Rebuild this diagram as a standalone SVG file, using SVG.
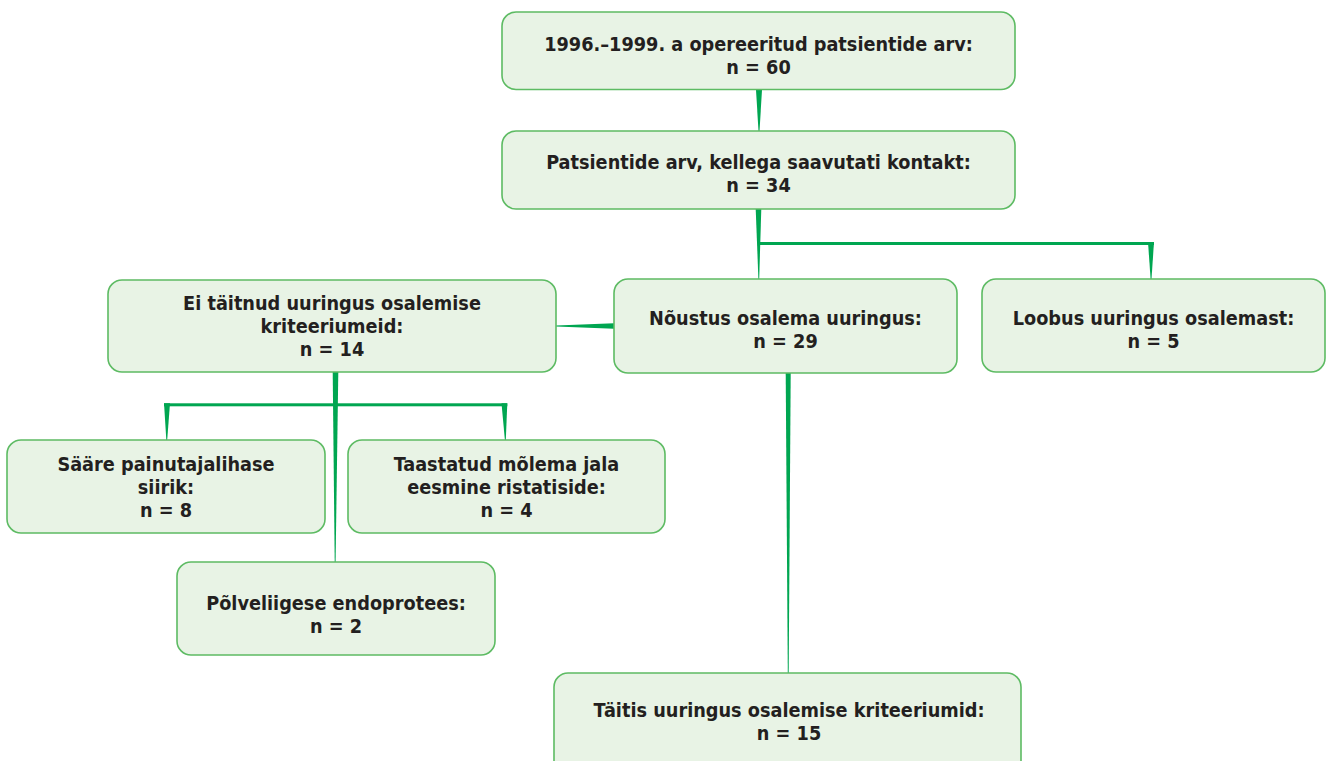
<svg xmlns="http://www.w3.org/2000/svg" width="1329" height="761" viewBox="0 0 1329 761">
<style>
.box{fill:#e8f3e5;stroke:#5dbb63;stroke-width:1.6}
.t{font-family:"DejaVu Sans Condensed","DejaVu Sans",sans-serif;font-stretch:condensed;font-weight:bold;font-size:19.7px;fill:#231f20;text-anchor:middle}
.c{fill:#00a651}
</style>
<rect width="1329" height="761" fill="#ffffff"/>
<g id="connectors">
<polygon class="c" points="756,90 762,90 759.5,131 758.5,131"/>
<polygon class="c" points="755.7,209 761.3,209 759.2,279 758.4,279"/>
<rect class="c" x="759" y="242" width="395" height="3"/>
<polygon class="c" points="1148,242 1154,242 1151.5,279 1150.6,279"/>
<polygon class="c" points="614,323.3 614,328.7 556,326.5 556,325.6"/>
<polygon class="c" points="332.7,372 338.3,372 335.6,562 334.7,562"/>
<rect class="c" x="164" y="403.3" width="343.3" height="3"/>
<polygon class="c" points="164,403.3 170,403.3 167.2,440 166.3,440"/>
<polygon class="c" points="501.5,403.3 507.3,403.3 505.8,440 504.9,440"/>
<polygon class="c" points="785.7,373 790.7,373 788.7,673 787.8,673"/>
</g>
<g id="n1"><rect class="box" x="502" y="12" width="513" height="77.5" rx="14"/>
<text class="t" x="758.5" y="51">1996.–1999. a opereeritud patsientide arv:</text>
<text class="t" x="758.5" y="74">n = 60</text></g>
<g id="n2"><rect class="box" x="502" y="131" width="513" height="78" rx="14"/>
<text class="t" x="758.5" y="169">Patsientide arv, kellega saavutati kontakt:</text>
<text class="t" x="758.5" y="192">n = 34</text></g>
<g id="n3"><rect class="box" x="614" y="279" width="343" height="94" rx="14"/>
<text class="t" x="785.5" y="325">Nõustus osalema uuringus:</text>
<text class="t" x="785.5" y="348">n = 29</text></g>
<g id="n4"><rect class="box" x="982" y="279" width="343" height="93" rx="14"/>
<text class="t" x="1153.5" y="325">Loobus uuringus osalemast:</text>
<text class="t" x="1153.5" y="348">n = 5</text></g>
<g id="n5"><rect class="box" x="108" y="280" width="448" height="92" rx="14"/>
<text class="t" x="332" y="310">Ei täitnud uuringus osalemise</text>
<text class="t" x="332" y="333">kriteeriumeid:</text>
<text class="t" x="332" y="356">n = 14</text></g>
<g id="n6"><rect class="box" x="7" y="440" width="318" height="93" rx="14"/>
<text class="t" x="166" y="471">Sääre painutajalihase</text>
<text class="t" x="166" y="494">siirik:</text>
<text class="t" x="166" y="517">n = 8</text></g>
<g id="n7"><rect class="box" x="348" y="440" width="317" height="93" rx="14"/>
<text class="t" x="506.5" y="471">Taastatud mõlema jala</text>
<text class="t" x="506.5" y="494">eesmine ristatiside:</text>
<text class="t" x="506.5" y="517">n = 4</text></g>
<g id="n8"><rect class="box" x="177" y="562" width="318" height="93" rx="14"/>
<text class="t" x="336" y="610">Põlveliigese endoprotees:</text>
<text class="t" x="336" y="633">n = 2</text></g>
<g id="n9"><rect class="box" x="554" y="673" width="467" height="110" rx="14"/>
<text class="t" x="789" y="717">Täitis uuringus osalemise kriteeriumid:</text>
<text class="t" x="789" y="740">n = 15</text></g>
</svg>
